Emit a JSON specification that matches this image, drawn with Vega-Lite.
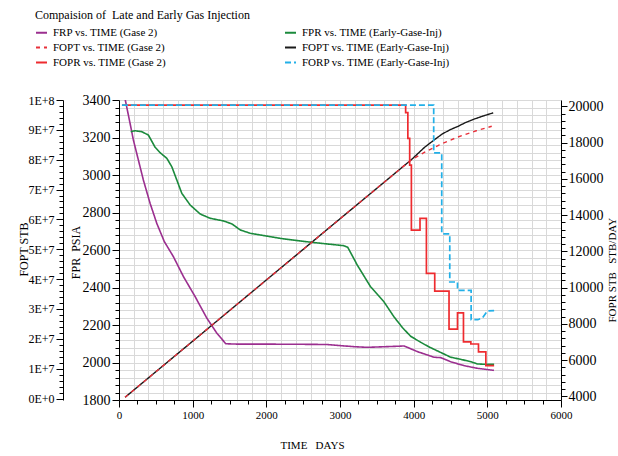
{
  "$schema": "https://vega.github.io/schema/vega-lite/v6.json",
  "autosize": "none",
  "width": 442,
  "height": 300,
  "padding": {"left": 119, "top": 100, "right": 57, "bottom": 56},
  "background": "white",
  "config": {
    "view": {"stroke": null},
    "font": "Liberation Serif, Times New Roman, serif",
    "axis": {
      "domainColor": "#000000",
      "tickColor": "#000000",
      "labelColor": "#000000",
      "titleColor": "#000000",
      "labelFont": "Liberation Serif, Times New Roman, serif",
      "titleFont": "Liberation Serif, Times New Roman, serif",
      "titleFontWeight": "normal",
      "labelOverlap": false,
      "labelFlush": false,
      "gridColor": "#d9d9d9",
      "gridWidth": 1,
      "gridOpacity": 1
    }
  },
  "datasets": {
    "pressure": [
      {"series": "FRP vs. TIME (Gase 2)", "day": 70, "value": 3430},
      {"series": "FRP vs. TIME (Gase 2)", "day": 113, "value": 3347},
      {"series": "FRP vs. TIME (Gase 2)", "day": 150, "value": 3276},
      {"series": "FRP vs. TIME (Gase 2)", "day": 195, "value": 3187},
      {"series": "FRP vs. TIME (Gase 2)", "day": 263, "value": 3080},
      {"series": "FRP vs. TIME (Gase 2)", "day": 331, "value": 2973},
      {"series": "FRP vs. TIME (Gase 2)", "day": 422, "value": 2849},
      {"series": "FRP vs. TIME (Gase 2)", "day": 513, "value": 2742},
      {"series": "FRP vs. TIME (Gase 2)", "day": 615, "value": 2645},
      {"series": "FRP vs. TIME (Gase 2)", "day": 739, "value": 2564},
      {"series": "FRP vs. TIME (Gase 2)", "day": 875, "value": 2458},
      {"series": "FRP vs. TIME (Gase 2)", "day": 1034, "value": 2351},
      {"series": "FRP vs. TIME (Gase 2)", "day": 1193, "value": 2236},
      {"series": "FRP vs. TIME (Gase 2)", "day": 1329, "value": 2156},
      {"series": "FRP vs. TIME (Gase 2)", "day": 1450, "value": 2100},
      {"series": "FRP vs. TIME (Gase 2)", "day": 1600, "value": 2098},
      {"series": "FRP vs. TIME (Gase 2)", "day": 2000, "value": 2098},
      {"series": "FRP vs. TIME (Gase 2)", "day": 2500, "value": 2097},
      {"series": "FRP vs. TIME (Gase 2)", "day": 2826, "value": 2096},
      {"series": "FRP vs. TIME (Gase 2)", "day": 3007, "value": 2090},
      {"series": "FRP vs. TIME (Gase 2)", "day": 3200, "value": 2084},
      {"series": "FRP vs. TIME (Gase 2)", "day": 3370, "value": 2081},
      {"series": "FRP vs. TIME (Gase 2)", "day": 3600, "value": 2084},
      {"series": "FRP vs. TIME (Gase 2)", "day": 3868, "value": 2088},
      {"series": "FRP vs. TIME (Gase 2)", "day": 3950, "value": 2075},
      {"series": "FRP vs. TIME (Gase 2)", "day": 4050, "value": 2058},
      {"series": "FRP vs. TIME (Gase 2)", "day": 4150, "value": 2045},
      {"series": "FRP vs. TIME (Gase 2)", "day": 4277, "value": 2028},
      {"series": "FRP vs. TIME (Gase 2)", "day": 4367, "value": 2026},
      {"series": "FRP vs. TIME (Gase 2)", "day": 4503, "value": 2004},
      {"series": "FRP vs. TIME (Gase 2)", "day": 4685, "value": 1983},
      {"series": "FRP vs. TIME (Gase 2)", "day": 4867, "value": 1969},
      {"series": "FRP vs. TIME (Gase 2)", "day": 5048, "value": 1960},
      {"series": "FRP vs. TIME (Gase 2)", "day": 5090, "value": 1958},
      {"series": "FPR vs. TIME (Early-Gase-Inj)", "day": 159, "value": 3231},
      {"series": "FPR vs. TIME (Early-Gase-Inj)", "day": 218, "value": 3236},
      {"series": "FPR vs. TIME (Early-Gase-Inj)", "day": 309, "value": 3231},
      {"series": "FPR vs. TIME (Early-Gase-Inj)", "day": 399, "value": 3213},
      {"series": "FPR vs. TIME (Early-Gase-Inj)", "day": 490, "value": 3148},
      {"series": "FPR vs. TIME (Early-Gase-Inj)", "day": 558, "value": 3119},
      {"series": "FPR vs. TIME (Early-Gase-Inj)", "day": 649, "value": 3089},
      {"series": "FPR vs. TIME (Early-Gase-Inj)", "day": 717, "value": 3044},
      {"series": "FPR vs. TIME (Early-Gase-Inj)", "day": 785, "value": 2973},
      {"series": "FPR vs. TIME (Early-Gase-Inj)", "day": 853, "value": 2902},
      {"series": "FPR vs. TIME (Early-Gase-Inj)", "day": 966, "value": 2840},
      {"series": "FPR vs. TIME (Early-Gase-Inj)", "day": 1102, "value": 2792},
      {"series": "FPR vs. TIME (Early-Gase-Inj)", "day": 1238, "value": 2769},
      {"series": "FPR vs. TIME (Early-Gase-Inj)", "day": 1419, "value": 2755},
      {"series": "FPR vs. TIME (Early-Gase-Inj)", "day": 1533, "value": 2739},
      {"series": "FPR vs. TIME (Early-Gase-Inj)", "day": 1646, "value": 2707},
      {"series": "FPR vs. TIME (Early-Gase-Inj)", "day": 1782, "value": 2689},
      {"series": "FPR vs. TIME (Early-Gase-Inj)", "day": 1918, "value": 2680},
      {"series": "FPR vs. TIME (Early-Gase-Inj)", "day": 2054, "value": 2671},
      {"series": "FPR vs. TIME (Early-Gase-Inj)", "day": 2190, "value": 2662},
      {"series": "FPR vs. TIME (Early-Gase-Inj)", "day": 2463, "value": 2648},
      {"series": "FPR vs. TIME (Early-Gase-Inj)", "day": 2735, "value": 2636},
      {"series": "FPR vs. TIME (Early-Gase-Inj)", "day": 3052, "value": 2623},
      {"series": "FPR vs. TIME (Early-Gase-Inj)", "day": 3106, "value": 2614},
      {"series": "FPR vs. TIME (Early-Gase-Inj)", "day": 3234, "value": 2520},
      {"series": "FPR vs. TIME (Early-Gase-Inj)", "day": 3415, "value": 2404},
      {"series": "FPR vs. TIME (Early-Gase-Inj)", "day": 3596, "value": 2324},
      {"series": "FPR vs. TIME (Early-Gase-Inj)", "day": 3732, "value": 2244},
      {"series": "FPR vs. TIME (Early-Gase-Inj)", "day": 3850, "value": 2185},
      {"series": "FPR vs. TIME (Early-Gase-Inj)", "day": 3959, "value": 2140},
      {"series": "FPR vs. TIME (Early-Gase-Inj)", "day": 4095, "value": 2108},
      {"series": "FPR vs. TIME (Early-Gase-Inj)", "day": 4200, "value": 2085},
      {"series": "FPR vs. TIME (Early-Gase-Inj)", "day": 4300, "value": 2066},
      {"series": "FPR vs. TIME (Early-Gase-Inj)", "day": 4413, "value": 2045},
      {"series": "FPR vs. TIME (Early-Gase-Inj)", "day": 4503, "value": 2028},
      {"series": "FPR vs. TIME (Early-Gase-Inj)", "day": 4639, "value": 2017},
      {"series": "FPR vs. TIME (Early-Gase-Inj)", "day": 4776, "value": 2004},
      {"series": "FPR vs. TIME (Early-Gase-Inj)", "day": 4867, "value": 1992},
      {"series": "FPR vs. TIME (Early-Gase-Inj)", "day": 5003, "value": 1990},
      {"series": "FPR vs. TIME (Early-Gase-Inj)", "day": 5092, "value": 1990}
    ],
    "cumulative": [
      {"series": "FOPT vs. TIME (Early-Gase-Inj)", "day": 82, "value": 400000},
      {"series": "FOPT vs. TIME (Early-Gase-Inj)", "day": 1000, "value": 19200000},
      {"series": "FOPT vs. TIME (Early-Gase-Inj)", "day": 2000, "value": 39700000},
      {"series": "FOPT vs. TIME (Early-Gase-Inj)", "day": 3000, "value": 60200000},
      {"series": "FOPT vs. TIME (Early-Gase-Inj)", "day": 3969, "value": 80000000},
      {"series": "FOPT vs. TIME (Early-Gase-Inj)", "day": 4150, "value": 84200000},
      {"series": "FOPT vs. TIME (Early-Gase-Inj)", "day": 4272, "value": 86500000},
      {"series": "FOPT vs. TIME (Early-Gase-Inj)", "day": 4381, "value": 88500000},
      {"series": "FOPT vs. TIME (Early-Gase-Inj)", "day": 4490, "value": 90000000},
      {"series": "FOPT vs. TIME (Early-Gase-Inj)", "day": 4595, "value": 91100000},
      {"series": "FOPT vs. TIME (Early-Gase-Inj)", "day": 4700, "value": 92400000},
      {"series": "FOPT vs. TIME (Early-Gase-Inj)", "day": 4820, "value": 93600000},
      {"series": "FOPT vs. TIME (Early-Gase-Inj)", "day": 4950, "value": 94700000},
      {"series": "FOPT vs. TIME (Early-Gase-Inj)", "day": 5080, "value": 95700000},
      {"series": "FOPT vs. TIME (Gase 2)", "day": 82, "value": 400000},
      {"series": "FOPT vs. TIME (Gase 2)", "day": 1000, "value": 19200000},
      {"series": "FOPT vs. TIME (Gase 2)", "day": 2000, "value": 39700000},
      {"series": "FOPT vs. TIME (Gase 2)", "day": 3000, "value": 60200000},
      {"series": "FOPT vs. TIME (Gase 2)", "day": 3969, "value": 80000000},
      {"series": "FOPT vs. TIME (Gase 2)", "day": 4150, "value": 82500000},
      {"series": "FOPT vs. TIME (Gase 2)", "day": 4350, "value": 85000000},
      {"series": "FOPT vs. TIME (Gase 2)", "day": 4600, "value": 87600000},
      {"series": "FOPT vs. TIME (Gase 2)", "day": 4850, "value": 89700000},
      {"series": "FOPT vs. TIME (Gase 2)", "day": 5060, "value": 91200000}
    ],
    "rate": [
      {"series": "FOPR vs. TIME (Gase 2)", "day": 40, "value": 20070},
      {"series": "FOPR vs. TIME (Gase 2)", "day": 3891, "value": 20070},
      {"series": "FOPR vs. TIME (Gase 2)", "day": 3891, "value": 19650},
      {"series": "FOPR vs. TIME (Gase 2)", "day": 3921, "value": 19650},
      {"series": "FOPR vs. TIME (Gase 2)", "day": 3921, "value": 18230},
      {"series": "FOPR vs. TIME (Gase 2)", "day": 3946, "value": 18230},
      {"series": "FOPR vs. TIME (Gase 2)", "day": 3946, "value": 16760},
      {"series": "FOPR vs. TIME (Gase 2)", "day": 3969, "value": 16760},
      {"series": "FOPR vs. TIME (Gase 2)", "day": 3969, "value": 13175},
      {"series": "FOPR vs. TIME (Gase 2)", "day": 4086, "value": 13175},
      {"series": "FOPR vs. TIME (Gase 2)", "day": 4086, "value": 13820},
      {"series": "FOPR vs. TIME (Gase 2)", "day": 4173, "value": 13820},
      {"series": "FOPR vs. TIME (Gase 2)", "day": 4173, "value": 10790},
      {"series": "FOPR vs. TIME (Gase 2)", "day": 4286, "value": 10790},
      {"series": "FOPR vs. TIME (Gase 2)", "day": 4286, "value": 9810},
      {"series": "FOPR vs. TIME (Gase 2)", "day": 4480, "value": 9810},
      {"series": "FOPR vs. TIME (Gase 2)", "day": 4480, "value": 7710},
      {"series": "FOPR vs. TIME (Gase 2)", "day": 4595, "value": 7710},
      {"series": "FOPR vs. TIME (Gase 2)", "day": 4595, "value": 8610},
      {"series": "FOPR vs. TIME (Gase 2)", "day": 4676, "value": 8610},
      {"series": "FOPR vs. TIME (Gase 2)", "day": 4676, "value": 7010},
      {"series": "FOPR vs. TIME (Gase 2)", "day": 4776, "value": 7010},
      {"series": "FOPR vs. TIME (Gase 2)", "day": 4776, "value": 6890},
      {"series": "FOPR vs. TIME (Gase 2)", "day": 4880, "value": 6890},
      {"series": "FOPR vs. TIME (Gase 2)", "day": 4880, "value": 6460},
      {"series": "FOPR vs. TIME (Gase 2)", "day": 4980, "value": 6460},
      {"series": "FOPR vs. TIME (Gase 2)", "day": 4980, "value": 5700},
      {"series": "FOPR vs. TIME (Gase 2)", "day": 5092, "value": 5700},
      {"series": "FORP vs. TIME (Early-Gase-Inj)", "day": 40, "value": 20070},
      {"series": "FORP vs. TIME (Early-Gase-Inj)", "day": 4272, "value": 20070},
      {"series": "FORP vs. TIME (Early-Gase-Inj)", "day": 4272, "value": 17430},
      {"series": "FORP vs. TIME (Early-Gase-Inj)", "day": 4381, "value": 17430},
      {"series": "FORP vs. TIME (Early-Gase-Inj)", "day": 4381, "value": 12970},
      {"series": "FORP vs. TIME (Early-Gase-Inj)", "day": 4490, "value": 12970},
      {"series": "FORP vs. TIME (Early-Gase-Inj)", "day": 4490, "value": 10310},
      {"series": "FORP vs. TIME (Early-Gase-Inj)", "day": 4595, "value": 10310},
      {"series": "FORP vs. TIME (Early-Gase-Inj)", "day": 4595, "value": 9850},
      {"series": "FORP vs. TIME (Early-Gase-Inj)", "day": 4780, "value": 9850},
      {"series": "FORP vs. TIME (Early-Gase-Inj)", "day": 4780, "value": 8230},
      {"series": "FORP vs. TIME (Early-Gase-Inj)", "day": 4871, "value": 8230},
      {"series": "FORP vs. TIME (Early-Gase-Inj)", "day": 4935, "value": 8340},
      {"series": "FORP vs. TIME (Early-Gase-Inj)", "day": 5003, "value": 8720},
      {"series": "FORP vs. TIME (Early-Gase-Inj)", "day": 5092, "value": 8735}
    ]
  },
  "layer": [
    {
      "data": {"name": "pressure"},
      "mark": {"type": "line", "clip": true, "strokeWidth": 1.6},
      "encoding": {
        "x": {
          "field": "day", "type": "quantitative",
          "scale": {"domain": [0, 6000], "nice": false, "zero": false},
          "axis": {
            "orient": "bottom",
            "values": [0,250,500,750,1000,1250,1500,1750,2000,2250,2500,2750,3000,3250,3500,3750,4000,4250,4500,4750,5000,5250,5500,5750,6000],
            "format": "d",
            "labelExpr": "datum.value % 1000 === 0 ? datum.label : ''",
            "tickSize": {"condition": {"test": "datum.value % 1000 === 0", "value": 7}, "value": 4},
            "labelPadding": 2,
            "labelFontSize": 11,
            "grid": false,
            "title": "TIME\u00a0\u00a0 DAYS",
            "titleFontSize": 11,
            "titleX": 193,
            "titleY": 45,
            "titleBaseline": "middle",
            "titleAlign": "center"
          }
        },
        "y": {
          "field": "value", "type": "quantitative",
          "scale": {"domain": [1800, 3400], "nice": false, "zero": false},
          "axis": {
            "orient": "left",
            "values": [1800,1840,1880,1920,1960,2000,2040,2080,2120,2160,2200,2240,2280,2320,2360,2400,2440,2480,2520,2560,2600,2640,2680,2720,2760,2800,2840,2880,2920,2960,3000,3040,3080,3120,3160,3200,3240,3280,3320,3360,3400],
            "format": "d",
            "labelExpr": "datum.value % 200 === 0 ? datum.label : ''",
            "tickSize": {"condition": {"test": "datum.value % 200 === 0", "value": 7}, "value": 4},
            "labelPadding": 2,
            "labelFontSize": 14,
            "grid": true,
            "title": "FPR\u00a0 PSIA",
            "titleFontSize": 12,
            "titleAngle": 270,
            "titleX": -44,
            "titleY": 152,
            "titleBaseline": "middle",
            "titleAlign": "center"
          }
        },
        "color": {
          "field": "series", "type": "nominal",
          "scale": {
            "domain": ["FRP vs. TIME (Gase 2)", "FOPT vs. TIME (Gase 2)", "FOPR vs. TIME (Gase 2)", "FPR vs. TIME (Early-Gase-Inj)", "FOPT vs. TIME (Early-Gase-Inj)", "FORP vs. TIME (Early-Gase-Inj)"],
            "range": ["#9b2f8f", "#e8303a", "#ee2b2f", "#1b8a3c", "#1a1a1a", "#22b0e8"]
          },
          "legend": {
            "orient": "none",
            "legendX": -84,
            "legendY": -90,
            "columns": 2,
            "columnPadding": 115,
            "rowPadding": 3,
            "padding": 0,
            "title": "Compaision of\u00a0 Late and Early Gas Injection",
            "titleFont": "Liberation Serif, Times New Roman, serif",
            "titleFontSize": 12,
            "titleFontWeight": "normal",
            "titleColor": "#000000",
            "titleLimit": 500,
            "titlePadding": 4,
            "labelFont": "Liberation Serif, Times New Roman, serif",
            "labelFontSize": 11,
            "labelColor": "#000000",
            "labelLimit": 300,
            "labelOffset": 5,
            "symbolType": "stroke",
            "symbolSize": 121,
            "symbolStrokeWidth": 2
          }
        },
        "strokeDash": {
          "field": "series", "type": "nominal",
          "scale": {
            "domain": ["FRP vs. TIME (Gase 2)", "FOPT vs. TIME (Gase 2)", "FOPR vs. TIME (Gase 2)", "FPR vs. TIME (Early-Gase-Inj)", "FOPT vs. TIME (Early-Gase-Inj)", "FORP vs. TIME (Early-Gase-Inj)"],
            "range": [[1, 0], [4, 4], [1, 0], [1, 0], [1, 0], [6, 3]]
          }
        },
        "order": {"value": null}
      }
    },
    {
      "data": {"name": "cumulative"},
      "mark": {"type": "line", "clip": true, "strokeWidth": 1.4},
      "encoding": {
        "x": {
          "field": "day", "type": "quantitative",
          "axis": {
            "orient": "top",
            "values": [0,200,400,600,800,1000,1200,1400,1600,1800,2000,2200,2400,2600,2800,3000,3200,3400,3600,3800,4000,4200,4400,4600,4800,5000,5200,5400,5600,5800,6000],
            "grid": true,
            "domain": false,
            "ticks": false,
            "labels": false,
            "title": null
          }
        },
        "y": {
          "field": "value", "type": "quantitative",
          "scale": {"domain": [-500000, 100000000], "nice": false, "zero": false},
          "axis": {
            "orient": "left",
            "offset": 56,
            "values": [0,2000000,4000000,6000000,8000000,10000000,12000000,14000000,16000000,18000000,20000000,22000000,24000000,26000000,28000000,30000000,32000000,34000000,36000000,38000000,40000000,42000000,44000000,46000000,48000000,50000000,52000000,54000000,56000000,58000000,60000000,62000000,64000000,66000000,68000000,70000000,72000000,74000000,76000000,78000000,80000000,82000000,84000000,86000000,88000000,90000000,92000000,94000000,96000000,98000000,100000000],
            "labelExpr": "datum.value === 0 ? '0E+0' : datum.value === 100000000 ? '1E+8' : (datum.value % 10000000 === 0 ? (datum.value / 10000000) + 'E+7' : '')",
            "tickSize": {"condition": {"test": "datum.value % 10000000 === 0", "value": 7}, "value": 4},
            "labelPadding": 2,
            "labelFontSize": 12,
            "grid": false,
            "title": "FOPT STB",
            "titleFontSize": 12,
            "titleAngle": 270,
            "titleX": -40,
            "titleY": 149,
            "titleBaseline": "middle",
            "titleAlign": "center"
          }
        },
        "color": {"field": "series", "type": "nominal"},
        "strokeDash": {"field": "series", "type": "nominal"},
        "order": {"value": null}
      }
    },
    {
      "data": {"name": "rate"},
      "mark": {"type": "line", "clip": true, "strokeWidth": 1.7},
      "encoding": {
        "x": {"field": "day", "type": "quantitative", "axis": null},
        "y": {
          "field": "value", "type": "quantitative",
          "scale": {"domain": [3800, 20350], "nice": false, "zero": false},
          "axis": {
            "orient": "right",
            "values": [4000,4400,4800,5200,5600,6000,6400,6800,7200,7600,8000,8400,8800,9200,9600,10000,10400,10800,11200,11600,12000,12400,12800,13200,13600,14000,14400,14800,15200,15600,16000,16400,16800,17200,17600,18000,18400,18800,19200,19600,20000],
            "format": "d",
            "labelExpr": "datum.value % 2000 === 0 ? datum.label : ''",
            "tickSize": {"condition": {"test": "datum.value % 2000 === 0", "value": 6}, "value": 4},
            "labelPadding": 1,
            "labelFontSize": 14,
            "grid": false,
            "title": "FOPR STB\u00a0\u00a0 STB/DAY",
            "titleFontSize": 11,
            "titleAngle": 270,
            "titleX": 51,
            "titleY": 222,
            "titleBaseline": "middle",
            "titleAlign": "left"
          }
        },
        "color": {"field": "series", "type": "nominal"},
        "strokeDash": {"field": "series", "type": "nominal"},
        "order": {"value": null}
      }
    }
  ],
  "resolve": {"scale": {"y": "independent"}, "axis": {"x": "independent"}}
}
